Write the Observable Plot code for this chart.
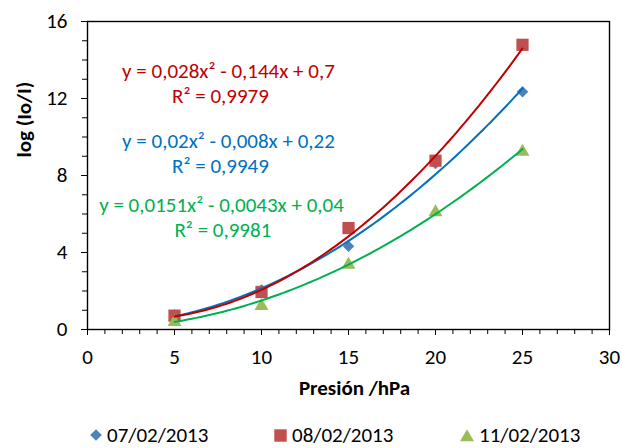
<!DOCTYPE html>
<html>
<head>
<meta charset="utf-8">
<script src="https://cdn.jsdelivr.net/npm/d3@7"></script>
<script src="https://cdn.jsdelivr.net/npm/@observablehq/plot@0.6"></script>
<style>
  html, body { margin: 0; padding: 0; background: #fff; }
  #wrap { position: relative; width: 622px; height: 448px; font-family: Carlito, Calibri, Lato, sans-serif; }
  .lg { position: absolute; top: 425px; height: 20px; line-height: 20px; display: flex; align-items: center; font-size: 21px; color: #000; }
  .lg svg { margin-right: 5px; }
</style>
</head>
<body>
<div id="wrap"></div>
<script>
// ---- data ----
const presion = [5, 10, 15, 20, 25];
const serie07 = [0.75, 2.05, 4.33, 8.62, 12.35];
const serie08 = [0.72, 1.95, 5.27, 8.77, 14.79];
const serie11 = [0.47, 1.30, 3.44, 6.17, 9.31];
const seriesNames = ["07/02/2013", "08/02/2013", "11/02/2013"];
// trendline coefficients (a x^2 + b x + c) as printed on the chart
const coef07 = [0.02, -0.008, 0.22];
const coef08 = [0.028, -0.144, 0.7];
const coef11 = [0.0151, -0.0043, 0.04];
const eqTexts = ["y = 0,02x² - 0,008x + 0,22", "y = 0,028x² - 0,144x + 0,7", "y = 0,0151x² - 0,0043x + 0,04"];
const r2Texts = ["R² = 0,9949", "R² = 0,9979", "R² = 0,9981"];
const xTicks = [0, 5, 10, 15, 20, 25, 30];
const yTicks = [0, 4, 8, 12, 16];
// label anchors (data units)
const eqAnchorX = [8.1, 8.1, 7.70];
const eqAnchorY = [9.79, 13.44, 6.45];
const r2AnchorX = [7.64, 7.64, 7.78];
const r2AnchorY = [8.46, 12.11, 5.17];

// ---- styles ----
const FS = 21;
const markerColors = ["#4F81BD", "#C0504D", "#9BBB59"];
const lineColors = ["#0070C0", "#C00000", "#00B050"];

const diamond = { draw(ctx, size) { const h = Math.sqrt(size / 2); ctx.moveTo(0, -h); ctx.lineTo(h, 0); ctx.lineTo(0, h); ctx.lineTo(-h, 0); ctx.closePath(); } };
const triangle = { draw(ctx, size) { const k = Math.sqrt(size / Math.PI); ctx.moveTo(0, -0.93 * k); ctx.lineTo(k, 0.78 * k); ctx.lineTo(-k, 0.78 * k); ctx.closePath(); } };
const symbols = [diamond, "square", triangle];
const radii = [4.6, 6.9, 7];

const values = [serie07, serie08, serie11];
const coefs = [coef07, coef08, coef11];

const points = values.map((vals, i) => presion.map((x, j) => ({x, y: vals[j]})));
const xs = d3.range(presion[0], presion[presion.length - 1] + 0.001, 0.25);
const curves = coefs.map(([a, b, c]) => xs.map(x => ({x, y: a * x * x + b * x + c})));

const marks = [
  Plot.axisX({ticks: d3.range(0, 31, 1), tickFormat: () => "", tickSize: 5, label: null}),
  Plot.axisX({ticks: xTicks, tickSize: 6, tickPadding: 14, label: null, fontSize: FS}),
  Plot.axisY({ticks: d3.range(0, 17, 1), tickFormat: () => "", tickSize: 5, label: null}),
  Plot.axisY({ticks: yTicks, tickSize: 6, tickPadding: 14, label: null, fontSize: FS}),
  Plot.frame({stroke: "#000", strokeWidth: 1.4})
];
values.forEach((v, i) => {
  marks.push(Plot.dot(points[i], {x: "x", y: "y", symbol: symbols[i], r: radii[i], fill: markerColors[i], stroke: "none"}));
});
curves.forEach((c, i) => {
  marks.push(Plot.line(c, {x: "x", y: "y", stroke: lineColors[i], strokeWidth: 2, curve: "linear"}));
});
eqTexts.forEach((t, i) => {
  marks.push(Plot.text([t], {x: () => eqAnchorX[i], y: () => eqAnchorY[i], text: d => d, fill: lineColors[i], textAnchor: "middle", lineAnchor: "middle", fontSize: FS}));
  marks.push(Plot.text([r2Texts[i]], {x: () => r2AnchorX[i], y: () => r2AnchorY[i], text: d => d, fill: lineColors[i], textAnchor: "middle", lineAnchor: "middle", fontSize: FS}));
});
marks.push(Plot.text(["Presión /hPa"], {frameAnchor: "bottom", dx: 6, dy: 59, fontWeight: "bold", fontSize: FS, lineAnchor: "middle"}));
marks.push(Plot.text(["log (Io/I)"], {frameAnchor: "left", dx: -63, dy: -18, rotate: -90, fontWeight: "bold", fontSize: FS, lineAnchor: "middle"}));

const chart = Plot.plot({
  width: 622,
  height: 410,
  marginTop: 21,
  marginLeft: 87,
  marginRight: 13,
  marginBottom: 81,
  style: {fontFamily: "Carlito, Calibri, Lato, sans-serif", fontSize: FS + "px", color: "#000", background: "#fff"},
  x: {domain: [0, 30]},
  y: {domain: [0, 16]},
  marks
});
const wrap = document.getElementById("wrap");
wrap.appendChild(chart);

// ---- legend ----
const legendLeft = [90, 274, 460];
const legendSvg = [
  '<svg width="12" height="12" viewBox="-6 -6 12 12"><path d="M0,-5.8L5.8,0L0,5.8L-5.8,0Z" fill="' + markerColors[0] + '"/></svg>',
  '<svg width="13" height="13" viewBox="-6.5 -6.5 13 13"><rect x="-6.2" y="-6.2" width="12.4" height="12.4" fill="' + markerColors[1] + '"/></svg>',
  '<svg width="14" height="13" viewBox="-7 -6.8 14 13"><path d="M0,-6.5L7,5.5L-7,5.5Z" fill="' + markerColors[2] + '"/></svg>'
];
seriesNames.forEach((name, i) => {
  const d = document.createElement("div");
  d.className = "lg";
  d.style.left = legendLeft[i] + "px";
  d.innerHTML = legendSvg[i] + "<span>" + name + "</span>";
  wrap.appendChild(d);
});
</script>
</body>
</html>
